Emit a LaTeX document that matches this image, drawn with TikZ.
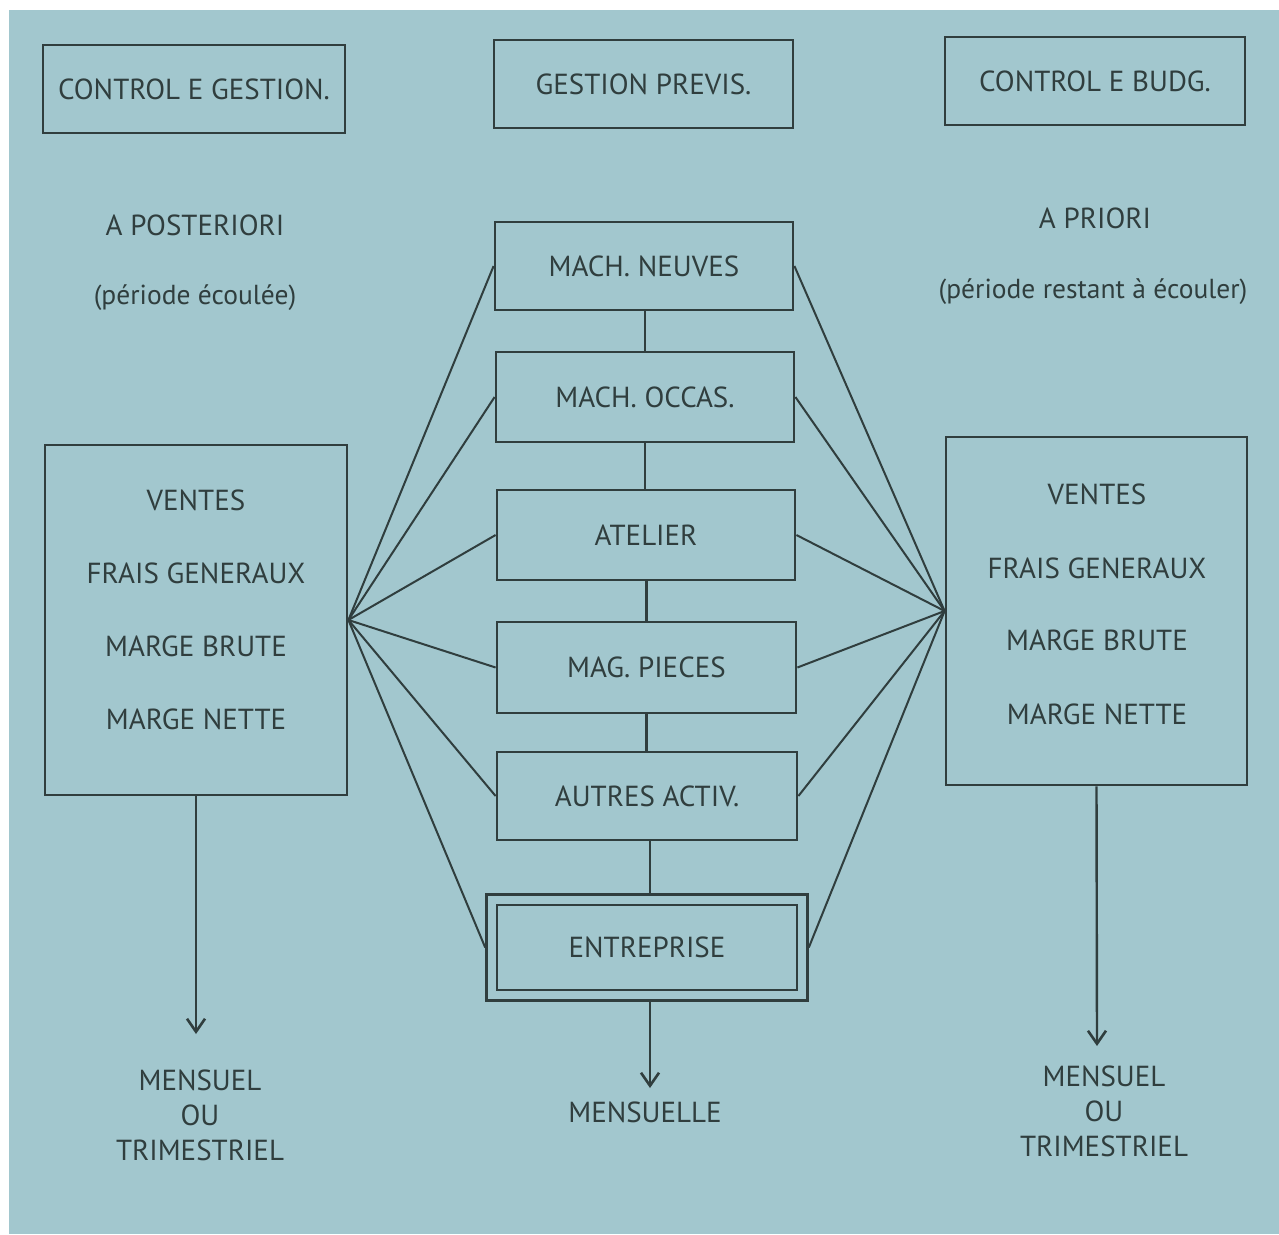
\documentclass[tikz,border=0pt]{standalone}
\usepackage{fontspec}
\setmainfont{PT Sans}
\usetikzlibrary{arrows.meta,fit}
\definecolor{paper}{RGB}{162,199,206}
\definecolor{ink}{RGB}{48,62,62}
\tikzset{
  box/.style={draw=ink, line width=2.8pt, minimum width=#1, inner sep=0pt},
  lab/.style={text=ink, font=\fontsize{29}{34}\selectfont, inner sep=0pt},
  lowlab/.style={text=ink, font=\fontsize{27.5}{32}\selectfont, inner sep=0pt},
  fan/.style={draw=ink, line width=2pt},
  link/.style={draw=ink, line width=2.4pt},
  arr/.style={draw=ink, line width=2.4pt, -{Straight Barb[length=13pt,width=18pt,line width=2.6pt]}}
}
\begin{document}
\begin{tikzpicture}[x=1pt,y=-1pt]
\useasboundingbox (0,0) rectangle (1279,1234);
\fill[white] (0,0) rectangle (1279,1234);
\fill[paper] (9,10) rectangle (1279,1234);
% top boxes
\node[box=302pt, minimum height=88pt, lab] (cg) at (194,89) {CONTROL E GESTION.};
\node[box=299pt, minimum height=88pt, lab] (gp) at (643.5,84) {GESTION PREVIS.};
\node[box=300pt, minimum height=88pt, lab] (cb) at (1095,81) {CONTROL E BUDG.};
% headings
\node[lab] (apost) at (195,225) {A POSTERIORI};
\node[lowlab] (pe) at (195,298) {(période écoulée)};
\node[lab] (apri) at (1095,218) {A PRIORI};
\node[lowlab] (pr) at (1093,292) {(période restant à écouler)};
% left big box
\node[box=302pt, minimum height=350pt] (lbox) at (196,620) {};
\node[lab] (l1) at (196,500) {VENTES};
\node[lab] (l2) at (196,573) {FRAIS GENERAUX};
\node[lab] (l3) at (196,646) {MARGE BRUTE};
\node[lab] (l4) at (196,719) {MARGE NETTE};
% right big box
\node[box=301pt, minimum height=348pt] (rbox) at (1096.5,611) {};
\node[lab] (r1) at (1097,494) {VENTES};
\node[lab] (r2) at (1097,568) {FRAIS GENERAUX};
\node[lab] (r3) at (1097,640) {MARGE BRUTE};
\node[lab] (r4) at (1097,714) {MARGE NETTE};
% center boxes
\node[box=298pt, minimum height=88pt, lab] (mn) at (644,266) {MACH. NEUVES};
\node[box=298pt, minimum height=90pt, lab] (mo) at (645,397) {MACH. OCCAS.};
\node[box=298pt, minimum height=90pt, lab] (at) at (646,535) {ATELIER};
\node[box=299pt, minimum height=91pt, lab] (mp) at (646.5,667.5) {MAG. PIECES};
\node[box=300pt, minimum height=88pt, lab] (aa) at (647,796) {AUTRES ACTIV.};
\node[box=300pt, minimum height=85pt, lab] (ent) at (647,947.5) {ENTREPRISE};
\node[draw=ink, line width=2.8pt, fit=(ent), inner sep=9pt] (ento) {};
% vertical links
\draw[link] (mo.north |- mn.south) -- (mo.north);
\draw[link] (mo.south) -- (mo.south |- at.north);
\draw[link] (mp.north |- at.south) -- (mp.north);
\draw[link] (mp.south) -- (mp.south |- aa.north);
\draw[link] ([xshift=3pt]aa.south) -- ([xshift=3pt]aa.south |- ento.north);
% fans
\foreach \n in {mn,mo,at,mp,aa,ento} {
  \draw[fan] (lbox.east) -- (\n.west);
  \draw[fan] (\n.east) -- (rbox.west);
}
% arrows
\coordinate (la) at (196,1034);
\coordinate (ca) at (650,1088);
\coordinate (ra) at (1097,1046);
\draw[arr] (lbox.south) -- (la);
\draw[arr] (ca |- ento.south) -- (ca);
\draw[arr] (rbox.south) -- (ra);
% bottom labels
\node[lab] (lm1) at (200,1080) {MENSUEL};
\node[lab] (lm2) at (200,1115) {OU};
\node[lab] (lm3) at (200,1150) {TRIMESTRIEL};
\node[lab] (cm) at (645,1112) {MENSUELLE};
\node[lab] (rm1) at (1104,1076) {MENSUEL};
\node[lab] (rm2) at (1104,1111) {OU};
\node[lab] (rm3) at (1104,1146) {TRIMESTRIEL};
\end{tikzpicture}
\end{document}
